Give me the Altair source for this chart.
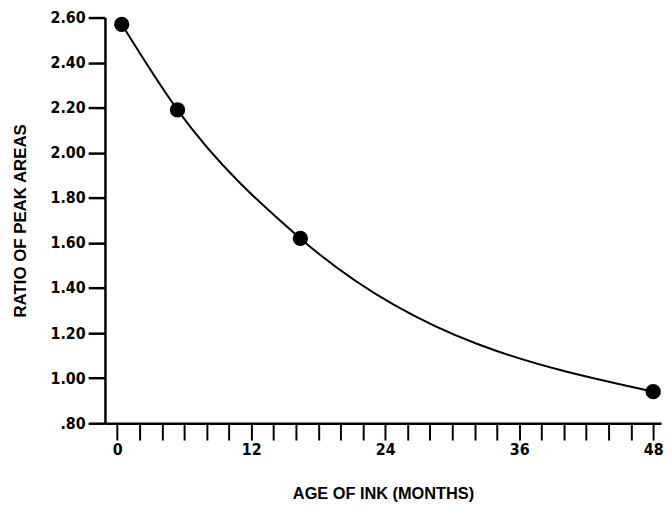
import altair as alt
import pandas as pd

age_months = [0.4, 5.4, 16.4, 48.0]
ratio = [2.57, 2.19, 1.62, 0.94]
x_ticks = list(range(0, 49, 2))
y_ticks = [0.8, 1.0, 1.2, 1.4, 1.6, 1.8, 2.0, 2.2, 2.4, 2.6]

df = pd.DataFrame({"age": age_months, "ratio": ratio})

FONT = "DejaVu Sans Condensed"
TFONT = "Liberation Sans"

x = alt.X("age:Q",
          scale=alt.Scale(domain=[-1.1, 48.7], nice=False, zero=False),
          axis=alt.Axis(title="AGE OF INK (MONTHS)", values=x_ticks, tickCount=100,
                        labelExpr="datum.value % 12 == 0 ? datum.value : ''",
                        labelOverlap=False,
                        grid=False, tickSize=17, tickWidth=2, domainWidth=2.5,
                        domainColor="black", tickColor="black",
                        labelFont=FONT, labelFontSize=16, labelFontWeight="bold",
                        labelColor="black", labelPadding=2, labelFlush=False,
                        titleFont=TFONT, titleFontSize=16.5,
                        titleFontWeight="bold", titleColor="black", titlePadding=28))
y = alt.Y("ratio:Q",
          scale=alt.Scale(domain=[0.8, 2.6], nice=False, zero=False),
          axis=alt.Axis(title="RATIO OF PEAK AREAS", values=y_ticks, tickCount=100,
                        labelExpr="replace(format(datum.value, '.2f'), /^0/, '')",
                        labelOverlap=False,
                        grid=False, tickSize=17, tickWidth=2.5, domainWidth=2.5,
                        domainColor="black", tickColor="black",
                        labelFont=FONT, labelFontSize=16, labelFontWeight="bold",
                        labelColor="black", labelPadding=3, labelFlush=False,
                        titleFont=TFONT, titleFontSize=17,
                        titleFontWeight="bold", titleColor="black", titlePadding=21))

line = alt.Chart(df).mark_line(color="black", strokeWidth=2, interpolate="monotone").encode(x=x, y=y)
pts = alt.Chart(df).mark_circle(color="black", opacity=1, size=240).encode(x="age:Q", y="ratio:Q")

chart = (line + pts).properties(
    width=562, height=410,
    autosize=alt.AutoSizeParams(type="none"),
    padding={"left": 98, "top": 7, "right": 2, "bottom": 80},
).configure_view(stroke=None)

chart.save("out.html", embed_options={"renderer": "svg", "actions": False})
